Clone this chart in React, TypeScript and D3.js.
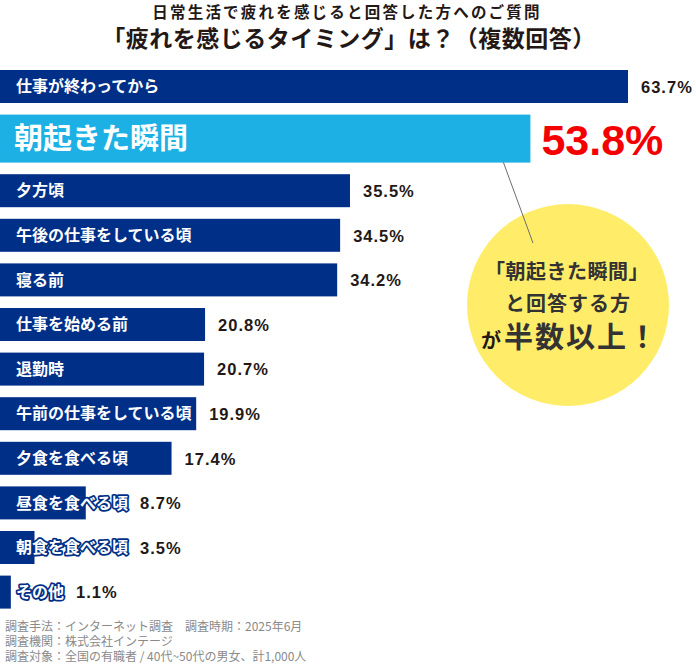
import React from "react";
import * as d3 from "d3";

const categories = [
  "仕事が終わってから",
  "朝起きた瞬間",
  "夕方頃",
  "午後の仕事をしている頃",
  "寝る前",
  "仕事を始める前",
  "退勤時",
  "午前の仕事をしている頃",
  "夕食を食べる頃",
  "昼食を食べる頃",
  "朝食を食べる頃",
  "その他",
];
const values = [63.7, 53.8, 35.5, 34.5, 34.2, 20.8, 20.7, 19.9, 17.4, 8.7, 3.5, 1.1];
const highlightIndex = 1;
const titleLines = ["日常生活で疲れを感じると回答した方へのご質問", "「疲れを感じるタイミング」は？（複数回答）"];
const bubbleLines = ["「朝起きた瞬間」", "と回答する方"];
const bubbleLast = ["が", "半数以上！"];
const notes = [
  "調査手法：インターネット調査　調査時期：2025年6月",
  "調査機関：株式会社インテージ",
  "調査対象：全国の有職者 / 40代~50代の男女、計1,000人",
];

const JP = "'Noto Sans CJK JP', 'Noto Sans', sans-serif";
const NUM = "'Liberation Sans', Arial, sans-serif";
const NAVY = "#002f87";
const LIGHT = "#1cb0e4";
const DARK = "#231815";

export default function App() {
  const W = 696;
  const H = 664;
  const x = d3.scaleLinear().domain([0, 63.7]).range([0, 628]);
  const normalH = 33;
  const bigH = 48;
  const gap = 11.6;
  const tops: number[] = [];
  let acc = 70;
  values.forEach((_, i) => {
    tops.push(acc);
    acc += (i === highlightIndex ? bigH : normalH) + gap;
  });

  const labelX = 16;
  const labelFs = 16;

  const cx = 568;
  const cy = 305;
  const r = 101;

  return (
    <svg
      width={W}
      height={H}
      viewBox={`0 0 ${W} ${H}`}
      style={{ position: "absolute", left: 0, top: 0, background: "#fff" }}
    >
      <g fontFamily={JP} fontWeight={700} fill={DARK} textAnchor="middle">
        <text x={347} y={18} fontSize={15.5} letterSpacing={2.2}>
          {titleLines[0]}
        </text>
        <text x={349} y={47} fontSize={23} letterSpacing={0.5}>
          {titleLines[1]}
        </text>
      </g>

      {/* bubble */}
      <circle cx={cx} cy={cy} r={r} fill="#ffed6a" />
      <line x1={493} y1={134} x2={533} y2={243} stroke="#6d6d6d" strokeWidth={1} />

      {values.map((v, i) => {
        const isH = i === highlightIndex;
        const h = isH ? bigH : normalH;
        const y0 = tops[i];
        const barEnd = x(v);
        const cyb = y0 + h / 2;
        const lblW = categories[i].length * labelFs;
        const lblEnd = labelX + lblW;
        const vx = Math.max(barEnd + 13, lblEnd + 12);
        return (
          <g key={categories[i]}>
            <rect x={0} y={y0} width={barEnd} height={h} fill={isH ? LIGHT : NAVY} />
            {isH ? (
              <>
                <text
                  x={14}
                  y={cyb + 0.36 * 29}
                  fontFamily={JP}
                  fontWeight={700}
                  fontSize={29}
                  fill="#fff"
                >
                  {categories[i]}
                </text>
                <text x={barEnd + 11} y={y0 + 40} fontFamily={NUM} fontWeight={700} fontSize={43} fill="#f50000">
                  {v.toFixed(1)}%
                </text>
              </>
            ) : (
              <>
                <text
                  x={labelX}
                  y={cyb + 0.36 * labelFs}
                  fontFamily={JP}
                  fontWeight={700}
                  fontSize={labelFs}
                  fill="#fff"
                  stroke={NAVY}
                  strokeWidth={3.5}
                  strokeLinejoin="round"
                  paintOrder="stroke"
                >
                  {categories[i]}
                </text>
                <text
                  x={vx}
                  y={cyb + 6.3}
                  fontFamily={NUM}
                  fontWeight={700}
                  fontSize={16.5}
                  letterSpacing={1}
                  fill={DARK}
                >
                  {v.toFixed(1)}%
                </text>
              </>
            )}
          </g>
        );
      })}

      <g fontFamily={JP} fontWeight={700} fill="#333" textAnchor="middle">
        <text x={cx - 1} y={279} fontSize={20} letterSpacing={0.5}>
          {bubbleLines[0]}
        </text>
        <text x={cx} y={311} fontSize={20} letterSpacing={1}>
          {bubbleLines[1]}
        </text>
        <text x={cx + 2} y={348}>
          <tspan fontSize={20} fill={DARK}>{bubbleLast[0]}</tspan>
          <tspan fontSize={29} letterSpacing={2} dx={3}>{bubbleLast[1]}</tspan>
        </text>
      </g>

      <g fontFamily={JP} fontSize={12} fill="#8a8a8a">
        {notes.map((n, i) => (
          <text key={i} x={5} y={631 + i * 15}>
            {n}
          </text>
        ))}
      </g>
    </svg>
  );
}
